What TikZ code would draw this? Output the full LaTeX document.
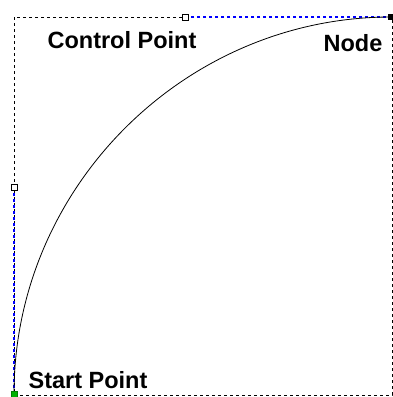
\documentclass[tikz,border=0pt]{standalone}
\usepackage{fontspec}
\setmainfont{Liberation Sans}
\usetikzlibrary{positioning}
\tikzset{frame/.style={draw,dashed,line width=0.8pt},handleline/.style={draw=blue,line width=1.8pt,dash pattern=on 3pt off 3pt},handle/.style={rectangle,draw,fill=white,line width=1pt,minimum size=6pt,inner sep=0pt},label/.style={font=\bfseries\fontsize{23.5}{23.5}\selectfont,inner sep=0pt}}

\begin{document}
\begin{tikzpicture}[x=1pt,y=-1pt]
\useasboundingbox (0,0) rectangle (393,397);
\coordinate (s) at (14,394);
\coordinate (c1) at (14,187);
\coordinate (c2) at (185,17);
\coordinate (n) at (391,17);
\draw[frame] (14,17) rectangle (392,395);
\draw[handleline] (s) -- (c1);
\draw[handleline] (c2) -- (n);
\draw[line width=0.8pt] (s) .. controls (c1) and (c2) .. (n);
\node[handle] (h1) at (c1) {};
\node[handle] (h2) at (c2) {};
\node[rectangle,fill=black,minimum size=6pt,inner sep=0pt] (hn) at (n) {};
\node[rectangle,draw=green!50!black,fill=green!70!black,minimum size=6pt,inner sep=0pt] (hs) at (s) {};
\node[label] (lc) at (122,40) {Control Point};
\node[label] (ln) at (353,43) {Node};
\node[label] (ls) at (88,380) {Start Point};
\end{tikzpicture}
\end{document}
